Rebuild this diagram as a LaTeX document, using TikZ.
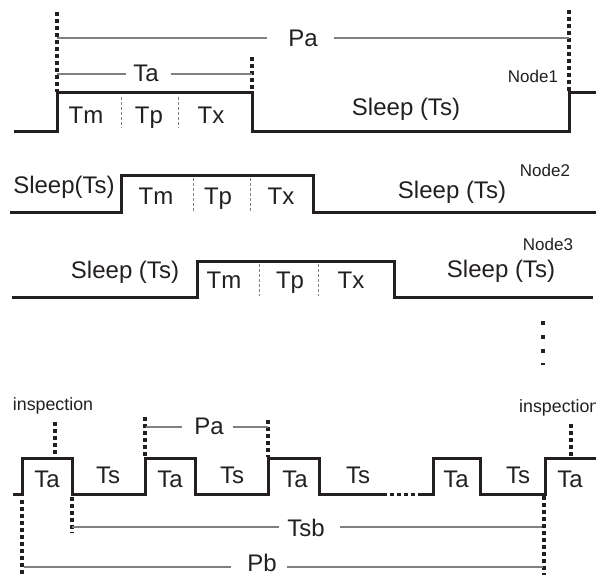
\documentclass[tikz,border=0pt]{standalone}
\usepackage{fontspec}
\setmainfont{Liberation Sans}
\usetikzlibrary{calc}
\definecolor{ink}{HTML}{231F20}
\definecolor{guide}{HTML}{808080}
\begin{document}
\begin{tikzpicture}[x=1pt,y=-1pt,
  wave/.style={line width=3pt, draw=ink, line join=miter, line cap=butt},
  dotv/.style={line width=3.2pt, draw=ink, dash pattern=on 4pt off 3pt},
  divider/.style={line width=0.8pt, draw=guide, dash pattern=on 3pt off 2pt},
  guideline/.style={line width=1.1pt, draw=guide},
  lbl/.style={font=\fontsize{24}{24}\selectfont, text=ink, inner sep=0pt, anchor=base},
  small/.style={font=\fontsize{17}{17}\selectfont, text=ink, inner sep=0pt, anchor=base},
  insp/.style={font=\fontsize{17.8}{17.8}\selectfont, text=ink, inner sep=0pt, anchor=base},
]
\clip (0,0) rectangle (596,575);

% ---------------- Node1 ----------------
\draw[wave] (14,131) -- (57,131) -- (57,93) -- (252,93) -- (252,131) -- (569,131) -- (569,93) -- (596,93);
\draw[divider] (121,97) -- (121,128);
\draw[divider] (178,97) -- (178,128);
\draw[dotv] (57,12) -- (57,92);
\draw[dotv] (252,57) -- (252,92);
\draw[dotv] (569,10) -- (569,91);
\node[lbl] (tm1) at (86,123) {Tm};
\node[lbl] (tp1) at (149,123) {Tp};
\node[lbl] (tx1) at (211,123) {Tx};
\node[lbl] (sl1) at (406,115) {Sleep (Ts)};
\node[small] (n1) at (533,83) {Node1};
% Pa top
\node[lbl] (paT) at (303,47) {Pa};
\coordinate (paTL) at (57,38);
\coordinate (paTR) at (569,38);
\draw[guideline] (paTL) -- ($(paTL -| paT.west)+(-21,0)$);
\draw[guideline] ($(paTR -| paT.east)+(16,0)$) -- (paTR);
% Ta top
\node[lbl] (taT) at (146,82) {Ta};
\coordinate (taTL) at (57,74);
\coordinate (taTR) at (252,74);
\draw[guideline] (taTL) -- ($(taTL -| taT.west)+(-7,0)$);
\draw[guideline] ($(taTR -| taT.east)+(12,0)$) -- (taTR);

% ---------------- Node2 ----------------
\draw[wave] (10,212) -- (121,212) -- (121,175) -- (313,175) -- (313,212) -- (596,212);
\draw[divider] (193,178) -- (193,211);
\draw[divider] (250,178) -- (250,211);
\node[lbl] (sl2a) at (64,193) {Sleep(Ts)};
\node[lbl] (tm2) at (156,204) {Tm};
\node[lbl] (tp2) at (218,204) {Tp};
\node[lbl] (tx2) at (281,204) {Tx};
\node[lbl] (sl2b) at (452,198) {Sleep (Ts)};
\node[small] (n2) at (545,176) {Node2};

% ---------------- Node3 ----------------
\draw[wave] (12,297) -- (197,297) -- (197,261) -- (394,261) -- (394,297) -- (593,297);
\draw[divider] (259,264) -- (259,296);
\draw[divider] (318,264) -- (318,296);
\node[lbl] (sl3a) at (125,278) {Sleep (Ts)};
\node[lbl] (tm3) at (224,288) {Tm};
\node[lbl] (tp3) at (290,288) {Tp};
\node[lbl] (tx3) at (351,288) {Tx};
\node[lbl] (sl3b) at (501,277) {Sleep (Ts)};
\node[small] (n3) at (548,250) {Node3};

% vertical ellipsis
\draw[line width=4pt, draw=ink, dash pattern=on 4pt off 10pt] (543,321) -- (543,365);

% ---------------- Bottom ----------------
\draw[wave] (13,494) -- (22,494) -- (22,458) -- (72,458) -- (72,494) -- (145,494) -- (145,458) -- (195,458) -- (195,494) -- (268,494) -- (268,458) -- (319,458) -- (319,494) -- (383,494);
\draw[line width=3pt, draw=ink, dash pattern=on 4pt off 3pt] (383,494) -- (421,494);
\draw[wave] (421,494) -- (433,494) -- (433,458) -- (480,458) -- (480,494) -- (545,494) -- (545,458) -- (596,458);

\draw[dotv] (55,422) -- (55,457);
\draw[dotv] (145,417) -- (145,457);
\draw[dotv] (268,420) -- (268,457);
\draw[dotv] (571,424) -- (571,458);
\draw[dotv] (22,500) -- (22,575);
\draw[dotv] (72,497) -- (72,533);
\draw[dotv] (544,496) -- (544,575);

\node[insp] (insL) at (53,410) {inspection};
\node[insp, anchor=base west] (insR) at (519,412) {inspection};

\foreach \x [count=\i] in {47,170,295,456,570} {
  \node[lbl] (ta\i) at (\x,487) {Ta};
}
\foreach \x [count=\i] in {108,232,358,518} {
  \node[lbl] (ts\i) at (\x,483) {Ts};
}

% Pa bottom
\node[lbl] (paB) at (209,434) {Pa};
\coordinate (paBL) at (146,427);
\coordinate (paBR) at (268,427);
\draw[guideline] (paBL) -- ($(paBL -| paB.west)+(-12,0)$);
\draw[guideline] ($(paBR -| paB.east)+(9,0)$) -- (paBR);

% Tsb
\node[lbl] (tsb) at (306,536) {Tsb};
\coordinate (tsbL) at (72,527);
\coordinate (tsbR) at (542,527);
\draw[guideline] (tsbL) -- ($(tsbL -| tsb.west)+(-8,0)$);
\draw[guideline] ($(tsbR -| tsb.east)+(15,0)$) -- (tsbR);

% Pb
\node[lbl] (pb) at (262,571) {Pb};
\coordinate (pbL) at (24,567);
\coordinate (pbR) at (543,567);
\draw[guideline] (pbL) -- ($(pbL -| pb.west)+(-16,0)$);
\draw[guideline] ($(pbR -| pb.east)+(10,0)$) -- (pbR);
\end{tikzpicture}
\end{document}
